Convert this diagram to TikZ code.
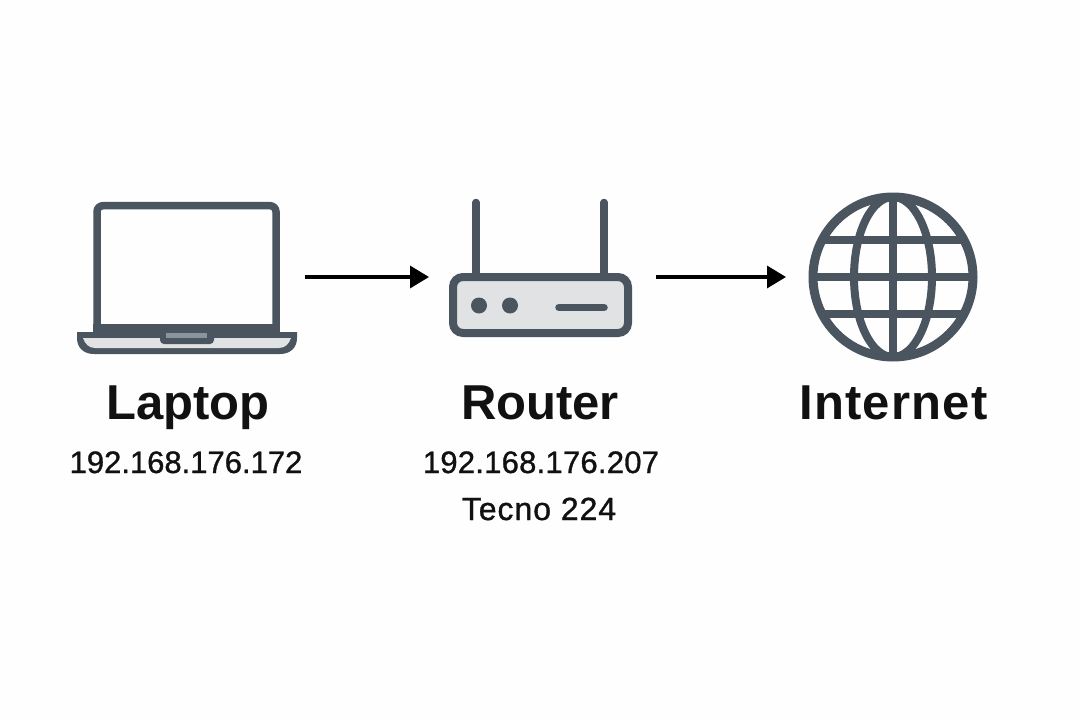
\documentclass[tikz,border=0pt]{standalone}
\usepackage{fontspec}
\setmainfont{Liberation Sans}
\newfontfamily\subfont[FakeBold=1]{Liberation Sans}
\usetikzlibrary{arrows.meta}
\definecolor{ink}{HTML}{4A5560}
\definecolor{panel}{HTML}{E0E2E3}
\definecolor{bg}{HTML}{FEFEFE}
\definecolor{notch}{HTML}{8A949C}
\definecolor{txt}{HTML}{111111}
\tikzset{
  icon/.style={draw=ink,line width=7.5pt},
  holder/.style={draw=none,fill=none,inner sep=0pt,outer sep=0pt,minimum height=20pt},
  title/.style={font=\fontsize{49}{52}\selectfont\bfseries,text=txt,inner sep=0pt,anchor=base},
  sub/.style={font=\subfont\fontsize{31}{33}\selectfont,text=txt,inner sep=0pt,anchor=base},
  link/.style={draw=black,line width=3.4pt,-{Triangle[length=19pt,width=22pt]}}
}
\begin{document}
\begin{tikzpicture}[x=1pt,y=-1pt]
\fill[bg] (0,0) rectangle (1080,720);
\useasboundingbox (0,0) rectangle (1080,720);
% laptop
\draw[icon,rounded corners=6pt] (97,330) -- (97,205.7) -- (276,205.7) -- (276,330);
\fill[ink] (93,324) rectangle (280,334);
\fill[ink] (77,332) -- (297,332) -- (297,338) .. controls (297,348) and (290,354) .. (280,354) -- (94,354) .. controls (84,354) and (77,348) .. (77,338) -- cycle;
\fill[panel] (83,338) -- (291,338) .. controls (289,344) and (285,348) .. (279,348) -- (95,348) .. controls (89,348) and (85,344) .. (83,338) -- cycle;
\fill[ink,rounded corners=4pt] (160,330) -- (214,330) -- (214,344) -- (160,344) -- cycle;
\fill[notch] (166,333) rectangle (207,338);
% router
\draw[icon,line cap=round] (476,202.5) -- (476,275);
\draw[icon,line cap=round] (604,202.5) -- (604,275);
\draw[icon,line width=8pt,fill=panel,rounded corners=10pt] (453,277) rectangle (628,333);
\fill[ink] (479,305.5) circle (8pt);
\fill[ink] (510,305.5) circle (8pt);
\draw[icon,line cap=round] (559,307.5) -- (604,307.5);
% globe
\begin{scope}
\clip (893,277) circle (82pt);
\draw[icon,line width=8pt] (800,240) -- (986,240);
\draw[icon,line width=8pt] (800,277) -- (986,277);
\draw[icon,line width=8pt] (800,314) -- (986,314);
\draw[icon,line width=8pt] (893,190) -- (893,364);
\draw[icon,line width=8pt] (893,277) ellipse (39pt and 80pt);
\end{scope}
\draw[icon,line width=9pt] (893,277) circle (80pt);
% holders for connectors
\node[holder,minimum width=236pt] (laptop) at (187,277) {};
\node[holder,minimum width=227pt] (router) at (542.5,277) {};
\node[holder,minimum width=214pt] (internet) at (893,277) {};
\draw[link] (laptop.east) -- (router.west);
\draw[link] (router.east) -- (internet.west);
% labels
\node[title] (laptopT) at (188,419) {Laptop};
\node[title] (routerT) at (540,419) {Router};
\node[title] (internetT) at (893.5,419) {\addfontfeature{LetterSpace=2.6}Internet};
\node[sub] (laptopA) at (186,473) {192.168.176.172};
\node[sub] (routerA) at (541,473) {\addfontfeature{LetterSpace=0.8}192.168.176.207};
\node[sub] (routerB) at (539,520) {\fontsize{32}{34}\selectfont\addfontfeature{LetterSpace=3}Tecno 224};
\end{tikzpicture}
\end{document}
